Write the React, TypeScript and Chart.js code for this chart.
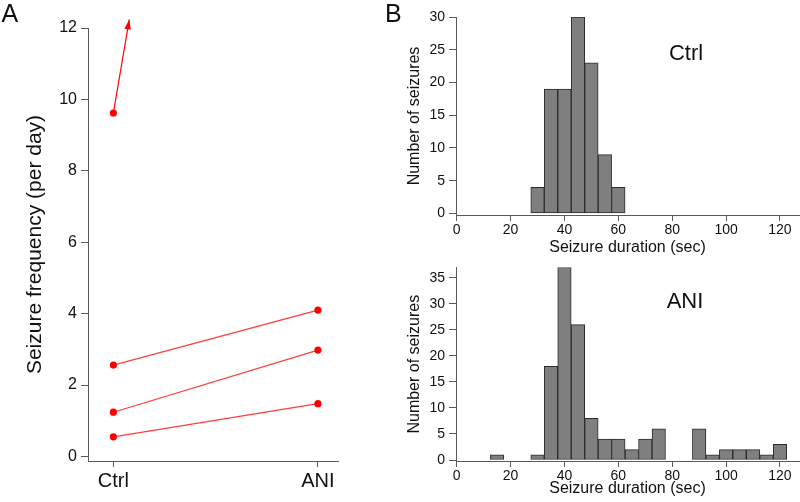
import React, { useEffect, useRef } from 'react';
import { Chart, registerables } from 'chart.js';

Chart.register(...registerables);

// ---------- data ----------
// Panel A: seizure frequency per animal
const GROUPS = ['Ctrl', 'ANI'];
const CTRL_FREQ = [2.56, 1.24, 0.55];
const ANI_FREQ = [4.1, 2.98, 1.48];
const OFFSCALE_CTRL_FREQ = 9.62; // animal whose ANI value is off scale
const OFFSCALE_ARROW_X = 0.078; // arrow end (category units)
const OFFSCALE_ARROW_Y = 12.24; // arrow end (per day)
const FREQ_TICKS = [0, 2, 4, 6, 8, 10, 12];

// Panel B: seizure duration histograms (5 s bins, centre values)
const CTRL_BINS = [30, 35, 40, 45, 50, 55, 60];
const CTRL_COUNTS = [4, 19, 19, 30, 23, 9, 4];
const ANI_BINS = [15, 30, 35, 40, 45, 50, 55, 60, 65, 70, 75, 90, 95, 100, 105, 110, 115, 120];
const ANI_COUNTS = [1, 1, 18, 37, 26, 8, 4, 4, 2, 4, 6, 6, 1, 2, 2, 2, 1, 3];
const DURATION_TICKS = [0, 20, 40, 60, 80, 100, 120];
const CTRL_COUNT_TICKS = [0, 5, 10, 15, 20, 25, 30];
const ANI_COUNT_TICKS = [0, 5, 10, 15, 20, 25, 30, 35];

// ---------- styles ----------
const FONT = '"Liberation Sans", Arial, Helvetica, sans-serif';
const AXIS = '#5a5a5a';
const TEXT = '#111111';
const RED = '#ff0000';
const LINE_RED = '#ff3c3c';
const BAR_FILL = '#7f7f7f';
const BAR_EDGE = '#2b2b2b';

type AxisOpts = {
  pos: 'left' | 'bottom';
  min: number;
  max: number;
  ticks: number[];
  size: number;
  fontSize: number;
  tickLength: number;
  tickPad: number;
  title: string;
  titleSize: number;
  titlePad: number;
  labels?: string[];
};

function axis(o: AxisOpts) {
  const vertical = o.pos === 'left';
  return {
    type: 'linear',
    position: o.pos,
    min: o.min,
    max: o.max,
    offset: false,
    afterBuildTicks: (s: any) => {
      s.ticks = o.ticks.map((v) => ({ value: v }));
    },
    afterFit: (s: any) => {
      if (vertical) s.width = o.size;
      else s.height = o.size;
    },
    grid: {
      display: true,
      offset: false,
      drawOnChartArea: false,
      drawTicks: true,
      tickLength: o.tickLength,
      color: AXIS,
      lineWidth: 1,
    },
    border: { display: true, color: AXIS, width: 1 },
    ticks: {
      autoSkip: false,
      maxRotation: 0,
      minRotation: 0,
      padding: o.tickPad,
      color: TEXT,
      font: { family: FONT, size: o.fontSize },
      callback: (v: number) => (o.labels ? o.labels[v] ?? '' : String(v)),
    },
    title: {
      display: o.title !== '',
      text: o.title,
      color: TEXT,
      font: { family: FONT, size: o.titleSize },
      padding: vertical ? { top: o.titlePad, bottom: 0 } : { top: 0, bottom: o.titlePad },
    },
  };
}

const arrowHeadPlugin = {
  id: 'arrowHead',
  afterDatasetsDraw(chart: any) {
    chart.data.datasets.forEach((ds: any, i: number) => {
      if (!ds.isArrow) return;
      const pts = chart.getDatasetMeta(i).data;
      const a = pts[pts.length - 2];
      const b = pts[pts.length - 1];
      const ang = Math.atan2(b.y - a.y, b.x - a.x);
      const L = 10;
      const W = 3.3;
      const ctx = chart.ctx;
      ctx.save();
      ctx.fillStyle = RED;
      ctx.beginPath();
      ctx.moveTo(b.x, b.y);
      ctx.lineTo(b.x - L * Math.cos(ang) + W * Math.sin(ang), b.y - L * Math.sin(ang) - W * Math.cos(ang));
      ctx.lineTo(b.x - L * Math.cos(ang) - W * Math.sin(ang), b.y - L * Math.sin(ang) + W * Math.cos(ang));
      ctx.closePath();
      ctx.fill();
      ctx.restore();
    });
  },
};

function panelAConfig(): any {
  const pairs = CTRL_FREQ.map((c, i) => ({
    data: [
      { x: 0, y: c },
      { x: 1, y: ANI_FREQ[i] },
    ],
    showLine: true,
    borderColor: LINE_RED,
    borderWidth: 1.2,
    pointRadius: 3.6,
    pointBackgroundColor: RED,
    pointBorderWidth: 0,
    clip: false,
  }));
  const arrow = {
    isArrow: true,
    data: [
      { x: 0, y: OFFSCALE_CTRL_FREQ },
      { x: OFFSCALE_ARROW_X, y: OFFSCALE_ARROW_Y },
    ],
    showLine: true,
    borderColor: RED,
    borderWidth: 1.2,
    pointRadius: [3.6, 0],
    pointBackgroundColor: RED,
    pointBorderWidth: 0,
    clip: false,
  };
  return {
    type: 'scatter',
    data: { datasets: [...pairs, arrow] },
    plugins: [arrowHeadPlugin],
    options: {
      responsive: false,
      animation: false,
      events: [],
      layout: { padding: { left: 0, top: 28, right: 52, bottom: 0 } },
      plugins: { legend: { display: false }, tooltip: { enabled: false } },
      scales: {
        x: axis({
          pos: 'bottom', min: -0.124, max: 1.098, ticks: [0, 1], size: 41,
          fontSize: 20, tickLength: 6, tickPad: 2, title: '', titleSize: 16, titlePad: 0,
          labels: GROUPS,
        }),
        y: axis({
          pos: 'left', min: -0.126, max: 12, ticks: FREQ_TICKS, size: 88,
          fontSize: 16, tickLength: 7, tickPad: 4,
          title: 'Seizure frequency (per day)', titleSize: 21, titlePad: 23,
        }),
      },
    },
  };
}

function histConfig(bins: number[], counts: number[], yMax: number, yMin: number, yTicks: number[], padTop: number, padBottom: number, xHeight: number): any {
  return {
    type: 'bar',
    data: {
      datasets: [
        {
          data: bins.map((b, i) => ({ x: b, y: counts[i] })),
          backgroundColor: BAR_FILL,
          borderColor: BAR_EDGE,
          borderWidth: 1,
          borderSkipped: false,
          barPercentage: 1,
          categoryPercentage: 1,
        },
      ],
    },
    options: {
      responsive: false,
      animation: false,
      events: [],
      layout: { padding: { left: 0, top: padTop, right: 1, bottom: padBottom } },
      plugins: { legend: { display: false }, tooltip: { enabled: false } },
      scales: {
        x: axis({
          pos: 'bottom', min: -0.26, max: 127.06, ticks: DURATION_TICKS, size: xHeight,
          fontSize: 14, tickLength: 6, tickPad: 1,
          title: 'Seizure duration (sec)', titleSize: 16, titlePad: 0,
        }),
        y: axis({
          pos: 'left', min: yMin, max: yMax, ticks: yTicks, size: 66,
          fontSize: 14, tickLength: 7, tickPad: 4,
          title: 'Number of seizures', titleSize: 16, titlePad: 15,
        }),
      },
    },
  };
}

function ChartCanvas(props: { left: number; top: number; width: number; height: number; make: () => any }) {
  const ref = useRef<HTMLCanvasElement>(null);
  useEffect(() => {
    const chart = new Chart(ref.current as HTMLCanvasElement, props.make());
    return () => chart.destroy();
  }, []);
  return (
    <canvas
      ref={ref}
      width={props.width}
      height={props.height}
      style={{ position: 'absolute', left: props.left, top: props.top, width: props.width, height: props.height }}
    />
  );
}

function Label(props: { text: string; cx?: number; left?: number; top: number; size: number }) {
  const style: React.CSSProperties = {
    position: 'absolute',
    top: props.top,
    fontFamily: FONT,
    fontSize: props.size,
    lineHeight: 1,
    color: TEXT,
    whiteSpace: 'nowrap',
  };
  if (props.cx !== undefined) {
    style.left = props.cx - 60;
    style.width = 120;
    style.textAlign = 'center';
  } else {
    style.left = props.left;
  }
  return <div style={style}>{props.text}</div>;
}

export default function App() {
  return (
    <div style={{ position: 'absolute', left: 0, top: 0, width: 800, height: 502, background: '#fff', overflow: 'hidden' }}>
      <ChartCanvas left={0} top={0} width={390} height={502} make={panelAConfig} />
      <ChartCanvas
        left={390} top={0} width={410} height={262}
        make={() => histConfig(CTRL_BINS, CTRL_COUNTS, 30, -0.23, CTRL_COUNT_TICKS, 17, 5, 42)}
      />
      <ChartCanvas
        left={390} top={255} width={410} height={247}
        make={() => histConfig(ANI_BINS, ANI_COUNTS, 37, -0.19, ANI_COUNT_TICKS, 9, 4, 37)}
      />
      <Label text="A" left={1.5} top={1} size={25} />
      <Label text="B" left={385} top={1} size={25} />
      <Label text="Ctrl" cx={686} top={42} size={22} />
      <Label text="ANI" cx={685} top={290} size={22} />
    </div>
  );
}
